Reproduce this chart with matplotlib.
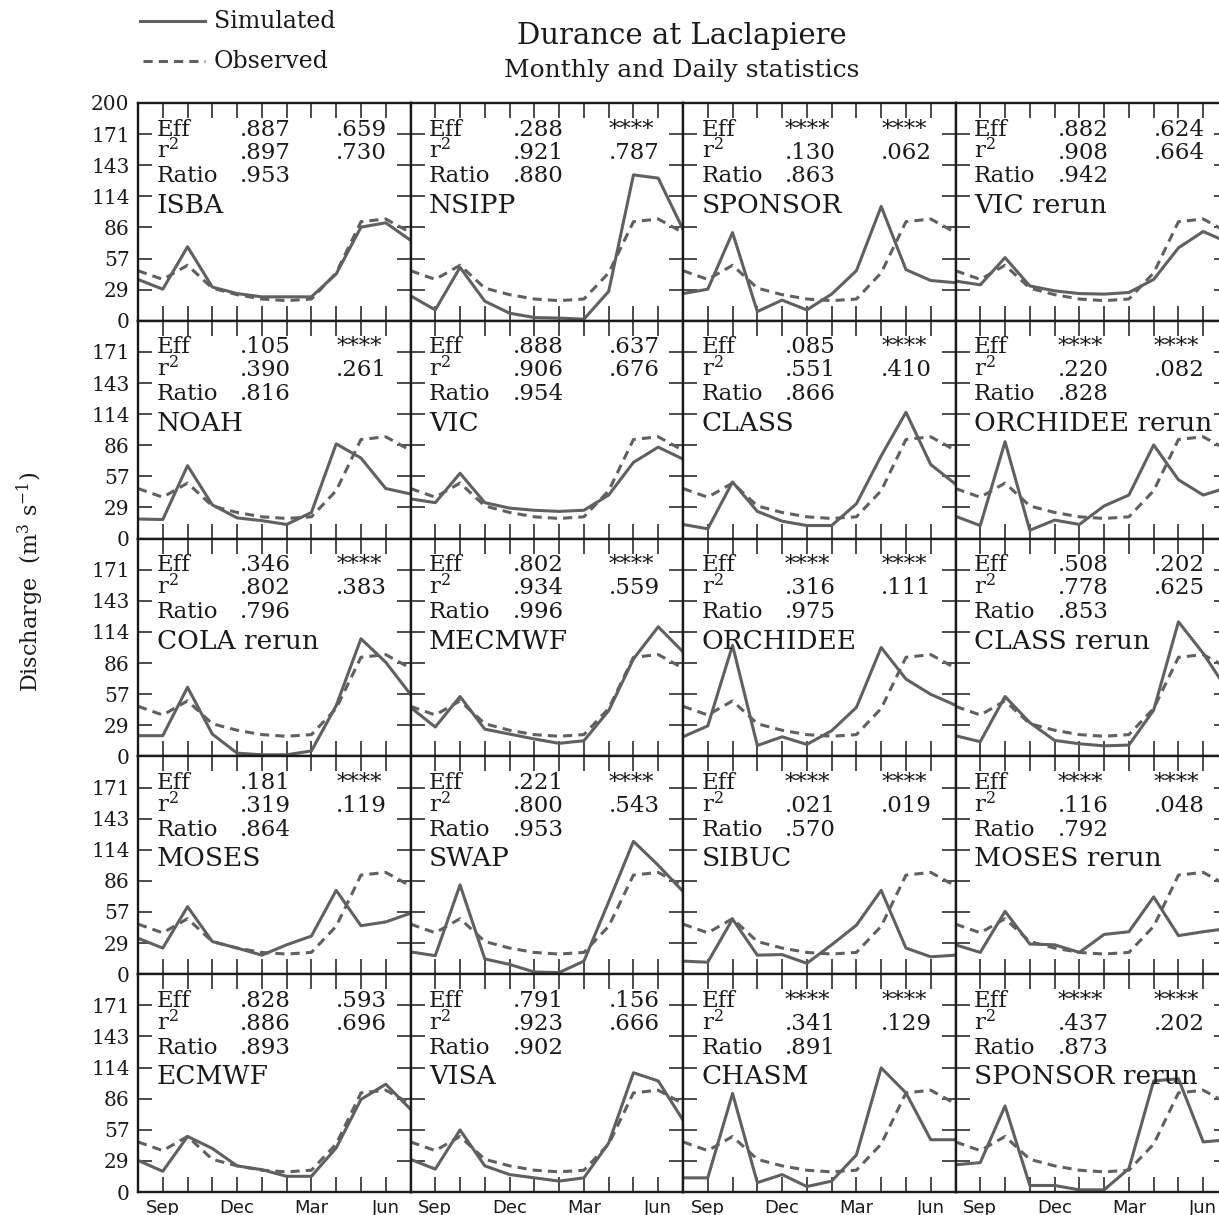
import numpy as np
import matplotlib
matplotlib.use("Agg")
import matplotlib.pyplot as plt
from matplotlib.lines import Line2D

plt.rcParams['font.family'] = ['DejaVu Serif']
plt.rcParams['mathtext.fontset'] = 'dejavuserif'

# months Aug..Jul, labelled at Sep, Dec, Mar, Jun
months = ['Aug', 'Sep', 'Oct', 'Nov', 'Dec', 'Jan', 'Feb', 'Mar', 'Apr', 'May', 'Jun', 'Jul']
shown_months = ['Sep', 'Dec', 'Mar', 'Jun']

observed = [46, 38, 51, 30, 24, 20, 18.5, 20, 44, 91, 93.5, 81]

models = ['ISBA', 'NSIPP', 'SPONSOR', 'VIC rerun',
          'NOAH', 'VIC', 'CLASS', 'ORCHIDEE rerun',
          'COLA rerun', 'MECMWF', 'ORCHIDEE', 'CLASS rerun',
          'MOSES', 'SWAP', 'SIBUC', 'MOSES rerun',
          'ECMWF', 'VISA', 'CHASM', 'SPONSOR rerun']

simulated = [
    [38, 29, 68, 31, 25, 22, 22, 22, 43, 86, 90, 74],
    [23, 10, 49, 18, 7, 3, 2.5, 1.5, 27, 134, 131, 84],
    [25, 29, 81, 8.5, 19, 10, 24.5, 46, 105, 47, 37, 35],
    [36.5, 33, 58, 32, 27.5, 25, 24.5, 26, 38, 67, 82, 72],
    [18, 17.5, 67, 31, 19, 16.5, 13, 24, 87, 74, 46, 41],
    [36.5, 33, 60, 33, 28, 26, 25, 26, 40, 70, 84, 73],
    [13, 9, 52, 25, 16, 12, 12, 32, 76, 116, 68, 50],
    [20.5, 12, 89, 7.6, 17, 13, 30, 40, 86, 54, 40, 47],
    [19, 19, 63.5, 20.5, 3, 1.5, 1.5, 5, 46.6, 108, 86.5, 57],
    [45, 27, 55, 25, 20.5, 16, 12, 14.4, 42, 89.5, 119, 96],
    [18, 28, 102, 10, 18, 11, 23.6, 45, 100, 71, 57, 47],
    [19, 13.5, 55, 31, 14.7, 11.6, 9.7, 10.4, 42.5, 123.6, 94.6, 60],
    [33, 24, 62, 30, 24, 17.5, 27, 35, 77, 44.5, 48, 56],
    [20.5, 17, 82, 14, 9, 2, 1.5, 12, 66.5, 122, 100, 76],
    [12, 11, 50.6, 17.5, 18, 10, 27, 45, 77, 24, 16, 17.5],
    [27, 20, 57.7, 27.7, 27, 20, 36.5, 39, 71, 35.4, 39, 42],
    [29, 19, 51, 40, 24, 20.5, 14.4, 14.4, 40.5, 85, 99, 76],
    [30, 21, 57, 24, 16, 13, 10, 13, 45, 109.5, 102, 66],
    [13, 13, 90.5, 8.6, 16, 5, 10, 34, 114, 91, 48, 48],
    [25, 27, 79, 6, 6, 2, 2, 21.5, 102, 104, 46, 48],
]

eff_monthly = ['.887', '.288', '****', '.882', '.105', '.888', '.085', '****', '.346', '.802',
               '****', '.508', '.181', '.221', '****', '****', '.828', '.791', '****', '****']
eff_daily = ['.659', '****', '****', '.624', '****', '.637', '****', '****', '****', '****',
             '****', '.202', '****', '****', '****', '****', '.593', '.156', '****', '****']
r2_monthly = ['.897', '.921', '.130', '.908', '.390', '.906', '.551', '.220', '.802', '.934',
              '.316', '.778', '.319', '.800', '.021', '.116', '.886', '.923', '.341', '.437']
r2_daily = ['.730', '.787', '.062', '.664', '.261', '.676', '.410', '.082', '.383', '.559',
            '.111', '.625', '.119', '.543', '.019', '.048', '.696', '.666', '.129', '.202']
ratio = ['.953', '.880', '.863', '.942', '.816', '.954', '.866', '.828', '.796', '.996',
         '.975', '.853', '.864', '.953', '.570', '.792', '.893', '.902', '.891', '.873']

W, H = 1219, 1215
fig = plt.figure(figsize=(W / 100, H / 100), dpi=100)

line_col = '#606060'
ink = '#1a1a1a'
x = np.arange(len(months))
yt = np.linspace(0, 200, 8)

for i, name in enumerate(models):
    r, c = divmod(i, 4)
    left = 138 + c * 272.5
    top = 103 + r * 217.8
    ax = fig.add_axes([left / W, 1 - (top + 217.8) / H, 272.5 / W, 217.8 / H])
    ax.plot(x, simulated[i], color=line_col, lw=2.2)
    ax.plot(x, observed, color=line_col, lw=2.2, linestyle=(0, (3, 2)))
    ax.set_xlim(0, 11)
    ax.set_ylim(0, 200)

    ax.set_xticks(x)
    if r == 4:
        ax.set_xticklabels([m if m in shown_months else '' for m in months],
                           family='DejaVu Sans', fontsize=13)
    else:
        ax.set_xticklabels([])
    ax.set_yticks(yt)
    if c == 0:
        labs = ['%.0f' % v for v in yt]
        if r > 0:
            labs[-1] = ''
        ax.set_yticklabels(labs, fontsize=14.5)
    else:
        ax.set_yticklabels([])
    ax.tick_params(axis='x', direction='in', top=True, bottom=True, length=11,
                   width=1.1, color=ink, pad=5, labelcolor=ink)
    ax.tick_params(axis='y', direction='in', left=True, right=True, length=10,
                   width=1.1, color=ink, pad=6, labelcolor=ink)
    for sp in ax.spines.values():
        sp.set_linewidth(1.7)
        sp.set_color(ink)

    fs = 16.5
    ax.text(0.75, 170, 'Eff', fontsize=fs, color=ink)
    ax.text(4.12, 170, eff_monthly[i], fontsize=fs, color=ink)
    ax.text(8.0, 170, eff_daily[i], fontsize=fs, color=ink)
    ax.text(0.75, 149, r'r$^2$', fontsize=fs, color=ink)
    ax.text(4.12, 149, r2_monthly[i], fontsize=fs, color=ink)
    ax.text(8.0, 149, r2_daily[i], fontsize=fs, color=ink)
    ax.text(0.75, 127, 'Ratio', fontsize=fs, color=ink)
    ax.text(4.12, 127, ratio[i], fontsize=fs, color=ink)
    ax.text(0.75, 99, name, fontsize=19, color=ink)

# legend
fig.add_artist(Line2D([140 / W, 205 / W], [1 - 21 / H] * 2, color=line_col, lw=2.2))
fig.add_artist(Line2D([143 / W, 205 / W], [1 - 61 / H] * 2, color=line_col, lw=2.2,
                      linestyle=(0, (3, 2))))
fig.text(214 / W, 1 - 21 / H, 'Simulated', fontsize=17, va='center', color=ink)
fig.text(214 / W, 1 - 61 / H, 'Observed', fontsize=17, va='center', color=ink)

fig.text(682 / W, 1 - 36 / H, 'Durance at Laclapiere', fontsize=21, ha='center',
         va='center', color=ink)
fig.text(682 / W, 1 - 71 / H, 'Monthly and Daily statistics', fontsize=18, ha='center',
         va='center', color=ink)

fig.text(30 / W, 1 - 582 / H, r'Discharge  (m$^3$ s$^{-1}$)', fontsize=16,
         rotation=90, ha='center', va='center', color=ink)

fig.savefig('out.png', dpi=100)
